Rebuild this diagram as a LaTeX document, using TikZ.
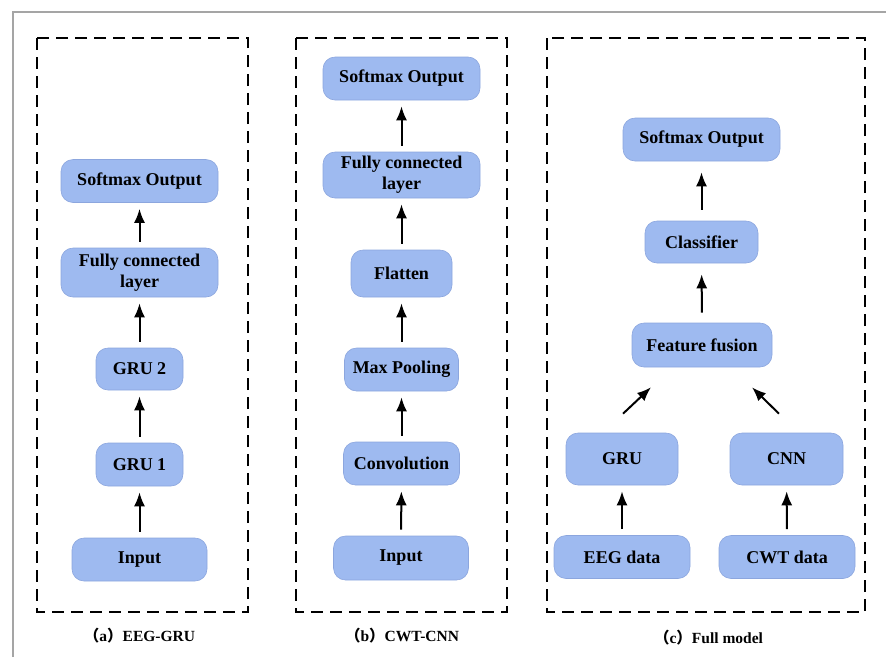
\documentclass[tikz,border=0pt]{standalone}
\usepackage{fontspec}
\setmainfont{Liberation Serif}
\newfontfamily\cjk{Noto Sans CJK SC}
\usepackage{tikz}
\usetikzlibrary{arrows.meta,positioning,calc}
\definecolor{layerfill}{RGB}{158,186,240}
\definecolor{layerdraw}{RGB}{140,166,222}
\definecolor{framegray}{RGB}{165,165,165}

\begin{document}
\begin{tikzpicture}[
    x=1pt, y=-1pt,
    layer/.style={rectangle, draw=layerdraw, line width=0.6pt, fill=layerfill, rounded corners=12pt, align=center, inner sep=2pt, font=\fontsize{18}{21}\selectfont\bfseries},
    arrow/.style={line width=2pt, -{Latex[length=14pt,width=11pt]}, shorten <=6pt, shorten >=6pt},
    panel/.style={draw, line width=1.8pt, dash pattern=on 12pt off 7pt},
    caption/.style={font=\fontsize{15.5}{18}\selectfont\bfseries}
]
\useasboundingbox (0,0) rectangle (886,657);

% outer frame
\draw[framegray, line width=1.6pt] (13,657) -- (13,12) -- (886,12);

% (a) EEG-GRU
\draw[panel] (37,38) rectangle (248,612);
\node[layer, minimum width=157pt, minimum height=43pt] (soft_a) at (139.5,181) {Softmax Output};
\node[layer, minimum width=157pt, minimum height=49pt] (fc_a) at (139.5,272.5) {Fully connected\\layer};
\node[layer, minimum width=87pt, minimum height=42pt] (gru2_a) at (139.5,369) {GRU 2};
\node[layer, minimum width=87pt, minimum height=43pt] (gru1_a) at (139.5,464.5) {GRU 1};
\node[layer, minimum width=135pt, minimum height=43pt] (in_a) at (139.5,559.5) {Input};
\node[caption] (cap_a) at (139.5,636) {{\cjk （}a{\cjk ）}EEG-GRU};

\draw[arrow] (in_a) -- (gru1_a);
\draw[arrow] (gru1_a) -- (gru2_a);
\draw[arrow] (gru2_a) -- (fc_a);
\draw[arrow] (fc_a) -- (soft_a);

% (b) CWT-CNN
\draw[panel] (296,38) rectangle (507,612);
\node[layer, minimum width=157pt, minimum height=43pt] (soft_b) at (401.5,78.5) {Softmax Output};
\node[layer, minimum width=157pt, minimum height=46pt] (fc_b) at (401.5,175) {Fully connected\\layer};
\node[layer, minimum width=101pt, minimum height=47pt] (flat_b) at (401.5,273.5) {Flatten};
\node[layer, minimum width=114pt, minimum height=43pt] (pool_b) at (401.5,369.5) {Max Pooling};
\node[layer, minimum width=116pt, minimum height=43pt] (conv_b) at (401.5,463.5) {Convolution};
\node[layer, minimum width=135pt, minimum height=44pt] (in_b) at (401,558) {Input};
\node[caption] (cap_b) at (402,636) {{\cjk （}b{\cjk ）}CWT-CNN};

\draw[arrow] (in_b) -- (conv_b);
\draw[arrow] (conv_b) -- (pool_b);
\draw[arrow] (pool_b) -- (flat_b);
\draw[arrow] (flat_b) -- (fc_b);
\draw[arrow] (fc_b) -- (soft_b);

% (c) Full model
\draw[panel] (547,38) rectangle (865,612);
\node[layer, minimum width=157pt, minimum height=43pt] (soft_c) at (701.5,139.5) {Softmax Output};
\node[layer, minimum width=113pt, minimum height=42pt] (cls_c) at (701.5,242) {Classifier};
\node[layer, minimum width=140pt, minimum height=44pt] (fus_c) at (702,345) {Feature fusion};
\node[layer, minimum width=112pt, minimum height=52pt] (gru_c) at (622,459) {GRU};
\node[layer, minimum width=113pt, minimum height=52pt] (cnn_c) at (786.5,459) {CNN};
\node[layer, minimum width=136pt, minimum height=43pt] (eeg_c) at (622,557) {EEG data};
\node[layer, minimum width=136pt, minimum height=43pt] (cwt_c) at (787,557) {CWT data};
\node[caption] (cap_c) at (708.5,638) {{\cjk （}c{\cjk ）}Full model};

\draw[arrow] (eeg_c) -- (gru_c);
\draw[arrow] (cwt_c) -- (cnn_c);
\coordinate (gru_tail) at ($(gru_c.north)+(1,-19)$);
\coordinate (gru_head) at ($(fus_c.south)+(-51,20)$);
\coordinate (cnn_tail) at ($(cnn_c.north)+(-7.5,-19)$);
\coordinate (cnn_head) at ($(fus_c.south)+(50,20)$);
\draw[arrow, shorten <=0pt, shorten >=0pt] (gru_tail) -- (gru_head);
\draw[arrow, shorten <=0pt, shorten >=0pt] (cnn_tail) -- (cnn_head);
\draw[arrow, shorten <=10pt, shorten >=11pt] (fus_c) -- (cls_c);
\draw[arrow, shorten <=11pt, shorten >=11pt] (cls_c) -- (soft_c);

\end{tikzpicture}
\end{document}
